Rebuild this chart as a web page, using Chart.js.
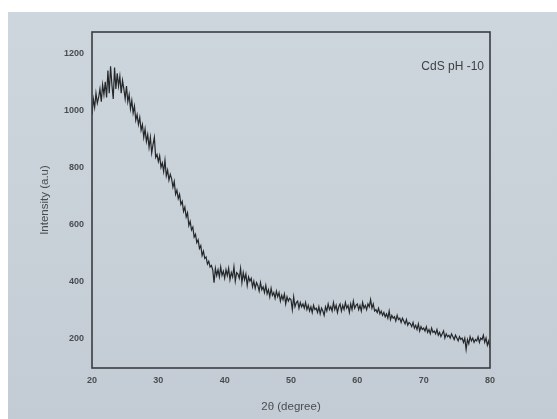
<!DOCTYPE html>
<html>
<head>
<meta charset="utf-8">
<script src="https://cdn.jsdelivr.net/npm/chart.js@4/dist/chart.umd.min.js"></script>
<style>
  html, body { margin: 0; padding: 0; background: #ffffff; }
  #wrap { position: relative; width: 557px; height: 419px; }
</style>
</head>
<body>
<div id="wrap"><canvas id="c" width="557" height="419"></canvas></div>
<script>
// 2θ from 20 to 80 in 0.2° steps
const twoThetaStart = 20;
const twoThetaStep = 0.2;
const intensity = [
  985, 1040, 1010, 1060, 1025, 1045, 1075, 1030, 1090, 1055,
  1100, 1045, 1140, 1060, 1155, 1090, 1040, 1150, 1075, 1130,
  1085, 1120, 1060, 1105, 1075, 1040, 1085, 1030, 1055, 1005,
  1035, 990, 1015, 965, 985, 950, 975, 930, 950, 905,
  935, 890, 915, 870, 905, 850, 880, 905, 835, 845,
  820, 840, 800, 815, 785, 825, 770, 790, 755, 775,
  760, 730, 750, 705, 720, 690, 705, 670, 680, 645,
  660, 625, 640, 595, 610, 580, 590, 555, 565, 535,
  545, 515, 525, 490, 505, 480, 485, 460, 470, 450,
  455, 440, 395, 445, 420, 440, 415, 450, 420, 435,
  410, 440, 420, 445, 405, 430, 415, 450, 400, 430,
  425, 410, 445, 395, 430, 405, 425, 385, 415, 400,
  410, 380, 400, 375, 395, 385, 365, 395, 370, 380,
  360, 385, 355, 370, 345, 375, 350, 360, 340, 365,
  345, 360, 330, 350, 335, 355, 320, 345, 330, 340,
  335, 300, 345, 310, 325, 330, 305, 325, 310, 320,
  305, 325, 300, 315, 295, 310, 290, 315, 300, 305,
  290, 310, 285, 305, 295, 280, 310, 295, 320, 300,
  310, 295, 325, 300, 315, 290, 310, 320, 295, 315,
  300, 325, 305, 315, 290, 320, 300, 330, 305, 315,
  320, 300, 315, 295, 325, 305, 315, 300, 320, 310,
  335, 305, 320, 295, 300, 290, 305, 285, 295, 280,
  290, 275, 285, 270, 295, 265, 280, 270, 275, 260,
  280, 265, 270, 255, 270, 260, 250, 265, 245, 255,
  250, 240, 255, 235, 245, 230, 250, 225, 240, 230,
  235, 225, 240, 220, 230, 215, 235, 220, 225, 215,
  230, 210, 220, 205, 215, 225, 200, 215, 205, 210,
  200, 215, 205, 195, 210, 200, 190, 205, 195, 200,
  185, 200, 160, 195, 180, 205, 190, 200, 185, 195,
  190, 205, 185, 200, 195, 210, 185, 200, 175, 190,
  165
];
const xTicks = [20, 30, 40, 50, 60, 70, 80];
const yTicks = [200, 400, 600, 800, 1000, 1200];
const seriesLabel = 'CdS pH -10';

const points = intensity.map((v, i) => ({ x: +(twoThetaStart + i * twoThetaStep).toFixed(1), y: v }));

const bgPlugin = {
  id: 'photoBg',
  beforeDraw(chart) {
    const { ctx, width, height } = chart;
    ctx.save();
    ctx.fillStyle = '#ffffff';
    ctx.fillRect(0, 0, width, height);
    const g = ctx.createLinearGradient(0, 12, 0, height);
    g.addColorStop(0, '#ced6dd');
    g.addColorStop(1, '#c3ccd4');
    ctx.fillStyle = g;
    ctx.fillRect(8, 12, width - 8, height - 12);
    ctx.restore();
  }
};

const framePlugin = {
  id: 'frame',
  afterDraw(chart) {
    const { ctx, chartArea: a } = chart;
    ctx.save();
    ctx.strokeStyle = '#3a3d40';
    ctx.lineWidth = 1.6;
    ctx.strokeRect(a.left, a.top, a.right - a.left, a.bottom - a.top);
    ctx.fillStyle = '#3e4144';
    ctx.font = '12px "Liberation Sans", Arial, sans-serif';
    ctx.textAlign = 'right';
    ctx.textBaseline = 'middle';
    ctx.fillText(seriesLabel, a.right - 6, 67);
    ctx.restore();
  }
};

const fam = '"Liberation Sans", Arial, sans-serif';

new Chart(document.getElementById('c'), {
  type: 'line',
  data: {
    datasets: [{
      label: seriesLabel,
      data: points,
      borderColor: '#25282b',
      borderWidth: 1.2,
      pointRadius: 0,
      tension: 0,
      fill: false
    }]
  },
  options: {
    responsive: false,
    animation: false,
    layout: { padding: { top: 32, right: 67, left: 38, bottom: 0 } },
    plugins: { legend: { display: false }, tooltip: { enabled: false } },
    scales: {
      x: {
        type: 'linear',
        min: 20, max: 80,
        afterBuildTicks(scale) { scale.ticks = xTicks.map(v => ({ value: v })); },
        afterFit(scale) { scale.height = 51; },
        grid: { display: false, drawTicks: false },
        border: { display: false },
        ticks: {
          padding: 7,
          color: '#4a4d50',
          callback: v => String(v),
          font: { family: fam, size: 9, weight: 'bold' },
          maxRotation: 0
        },
        title: {
          display: true,
          text: '2θ (degree)',
          color: '#4a4d50',
          padding: { top: 0, bottom: 5 },
          font: { family: fam, size: 11.5 }
        }
      },
      y: {
        type: 'linear',
        min: 95, max: 1275,
        afterBuildTicks(scale) { scale.ticks = yTicks.map(v => ({ value: v })); },
        afterFit(scale) { scale.width = 54; },
        grid: { display: false, drawTicks: false },
        border: { display: false },
        ticks: {
          padding: 8,
          color: '#4a4d50',
          callback: v => String(v),
          font: { family: fam, size: 9, weight: 'bold' }
        },
        title: {
          display: true,
          text: 'Intensity (a.u)',
          color: '#4a4d50',
          padding: { top: 0, bottom: 0 },
          font: { family: fam, size: 11.5 }
        }
      }
    }
  },
  plugins: [bgPlugin, framePlugin]
});
</script>
</body>
</html>
